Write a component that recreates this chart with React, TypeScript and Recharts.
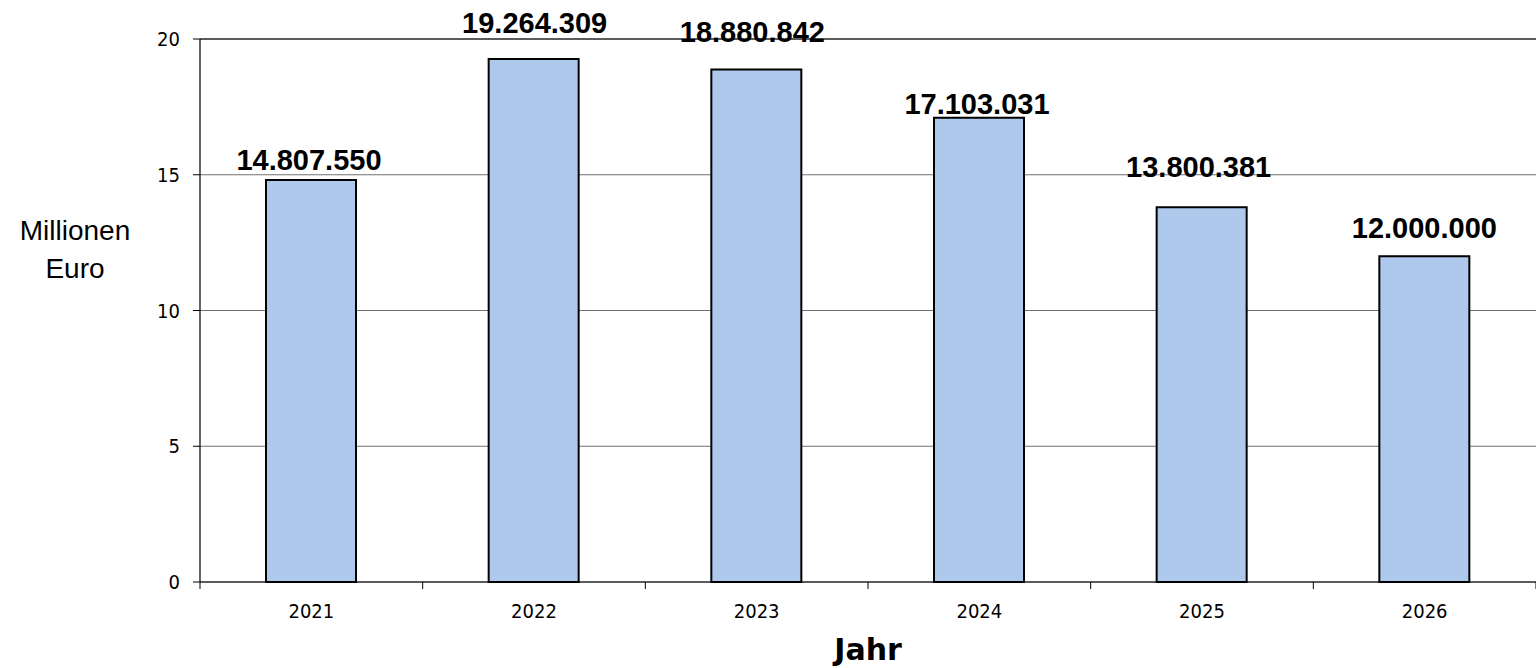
import React from "react";
import { BarChart, Bar, XAxis, YAxis, CartesianGrid, LabelList, Label, ReferenceLine } from "recharts";

const years = ["2021", "2022", "2023", "2024", "2025", "2026"];
const amountsEuro = [14807550, 19264309, 18880842, 17103031, 13800381, 12000000];
const yTicks = [0, 5, 10, 15, 20];
// vertical lift of each value label above its bar (styling only)
const labelLift = [10, 26, 27, 4, 30, 18];
const labelShift = [-2, 1, -4, -2, -3, 0];

const data = years.map((y, i) => ({ year: y, mio: amountsEuro[i] / 1e6 }));

const fmt = (n: number) => String(n).replace(/\B(?=(\d{3})+(?!\d))/g, ".");

const tickFont = "'DejaVu Sans Condensed', 'DejaVu Sans', sans-serif";

const ValueLabel = (props: any) => {
  const { x, y, width, index } = props;
  const v = amountsEuro[index];
  return (
    <text
      x={x + width / 2 + labelShift[index]}
      y={y - labelLift[index]}
      textAnchor="middle"
      fontFamily="'Liberation Sans', Arial, sans-serif"
      fontWeight="bold"
      fontSize={29}
      fill="#000"
    >
      {fmt(v)}
    </text>
  );
};

const YearTick = (props: any) => {
  const { x, y, payload, index, visibleTicksCount } = props;
  const half = payload && payload.offset ? payload.offset : 111.33;
  const axisY = y - 22;
  const isLast = index === (visibleTicksCount || years.length) - 1;
  return (
    <g>
      <line x1={x - half} x2={x - half} y1={axisY} y2={axisY + 7} stroke="#000" strokeWidth={1} />
      {isLast && <line x1={x + half} x2={x + half} y1={axisY} y2={axisY + 7} stroke="#000" strokeWidth={1} />}
      <text x={x} y={y} dy="0.71em" textAnchor="middle" fill="#000" fontSize={20} fontFamily={tickFont}>
        {payload.value}
      </text>
    </g>
  );
};

const YTitle = (props: any) => {
  const vb = props.viewBox || {};
  const cx = (vb.x || 0) + 75;
  return (
    <text textAnchor="middle" fontFamily="'Liberation Sans', Arial, sans-serif" fontSize={28} fill="#000">
      <tspan x={cx} y={240}>Millionen</tspan>
      <tspan x={cx} y={278}>Euro</tspan>
    </text>
  );
};

const XTitle = (props: any) => {
  const vb = props.viewBox || {};
  return (
    <text
      x={(vb.x || 0) + (vb.width || 0) / 2}
      y={(vb.y || 0) + 78}
      textAnchor="middle"
      fontFamily="'DejaVu Sans', Verdana, sans-serif"
      fontWeight="bold"
      fontSize={30}
      fill="#000"
    >
      Jahr
    </text>
  );
};

export default function App() {
  return (
    <div style={{ position: "absolute", left: 0, top: 0, width: 1536, height: 668, background: "#fff" }}>
      <BarChart width={1536} height={668} data={data} margin={{ top: 39, right: 0, bottom: 0, left: 0 }}>
        <CartesianGrid horizontal vertical={false} stroke="#707070" strokeWidth={1} />
        <ReferenceLine y={20} stroke="#000" strokeWidth={1} />
        <XAxis
          dataKey="year"
          height={86}
          axisLine={{ stroke: "#000", strokeWidth: 1.2 }}
          tickLine={false}
          tickSize={0}
          tickMargin={22}
          tick={<YearTick />}
          interval={0}
        >
          <Label content={<XTitle />} />
        </XAxis>
        <YAxis
          width={200}
          domain={[0, 20]}
          ticks={yTicks}
          axisLine={{ stroke: "#000", strokeWidth: 1.2 }}
          tickLine={{ stroke: "#000", strokeWidth: 1 }}
          tickSize={7}
          tickMargin={13}
          tick={{ fill: "#000", fontSize: 20, fontFamily: tickFont }}
        >
          <Label content={<YTitle />} />
        </YAxis>
        <Bar dataKey="mio" fill="#AFC9EC" stroke="#000" strokeWidth={2} barSize={90} isAnimationActive={false}>
          <LabelList dataKey="mio" content={<ValueLabel />} />
        </Bar>
      </BarChart>
    </div>
  );
}
